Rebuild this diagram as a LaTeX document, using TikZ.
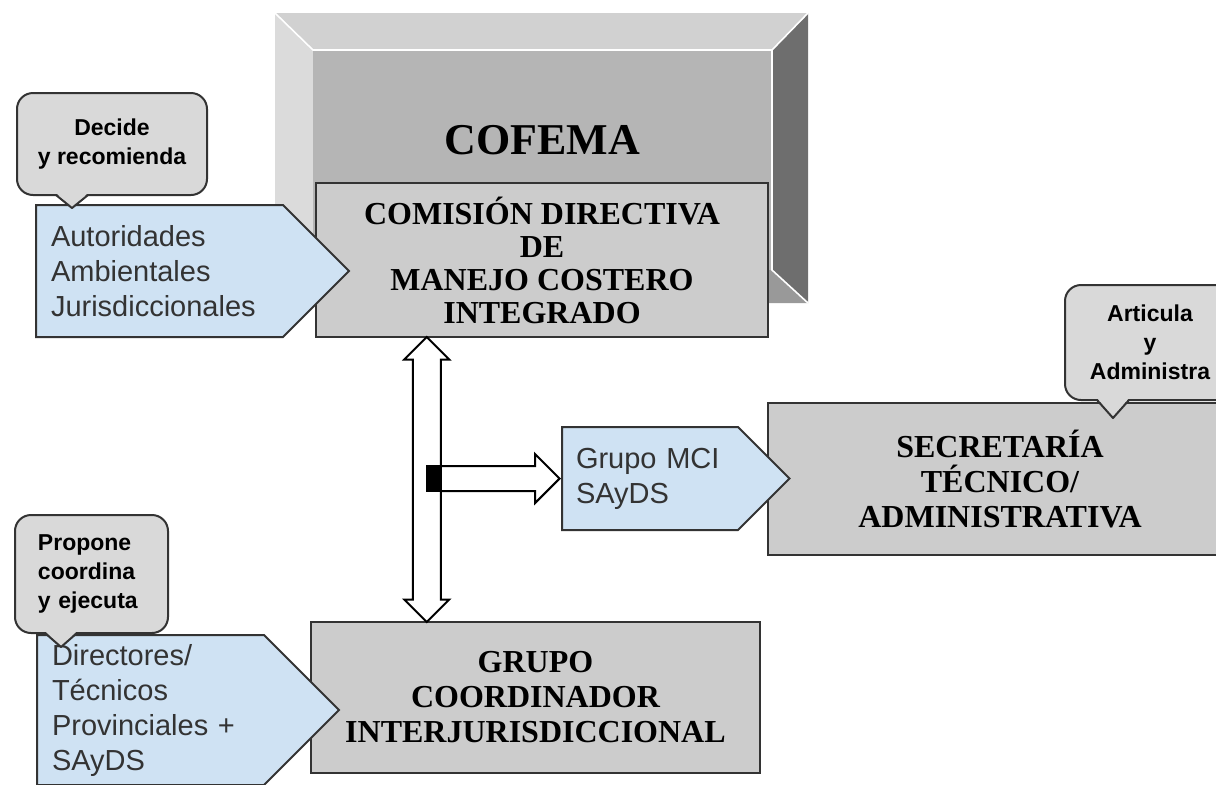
\documentclass[tikz,border=0pt]{standalone}
\usepackage{fontspec}
\setmainfont{Liberation Serif}
\setsansfont{Liberation Sans}
\usetikzlibrary{shapes.symbols,shapes.arrows,calc}

\definecolor{edge}{HTML}{333333}
\definecolor{boxgray}{HTML}{CCCCCC}
\definecolor{facegray}{HTML}{B5B5B5}
\definecolor{tagblue}{HTML}{CFE2F3}
\definecolor{notegray}{HTML}{D9D9D9}
\definecolor{tagtext}{HTML}{333333}

% tail of a callout: #1 note name, #2 tip coordinate
\newcommand{\notetail}[2]{%
  \fill[notegray] ($(#1.south -| #2)+(-8pt,1.5pt)$) -- (#2) -- ($(#1.south -| #2)+(8pt,1.5pt)$) -- cycle;
  \draw[edge, line width=1pt, line join=round] ($(#1.south -| #2)+(-8pt,0.5pt)$) -- (#2) -- ($(#1.south -| #2)+(8pt,0.5pt)$);
}

\begin{document}
\begin{tikzpicture}[x=0.5pt, y=-0.5pt,
    boxnode/.style = {draw=edge, fill=boxgray, line width=1.2pt, inner sep=0pt, align=center, font=\bfseries\fontsize{16}{17.5}\selectfont},
    tag/.style = {signal, signal to=east, signal pointer angle=90, draw=edge, fill=tagblue, line width=1pt, inner xsep=7.5pt, inner ysep=0pt, align=left, text=tagtext, font=\sffamily\fontsize{14.5}{17.5}\selectfont},
    note/.style = {draw=edge, fill=notegray, line width=1pt, rounded corners=8pt, inner sep=0pt, align=center, font=\sffamily\bfseries\fontsize{11.5}{14.5}\selectfont},
    link2/.style = {double arrow, draw=black, fill=white, line width=1pt, inner xsep=0pt, inner ysep=6.5pt, double arrow head extend=4.25pt},
    link1/.style = {single arrow, draw=black, fill=white, line width=1pt, inner xsep=0pt, inner ysep=5.75pt, single arrow head extend=6pt}]
  \useasboundingbox (0,0) rectangle (1216,784);

  % COFEMA frame
  \fill[black!18] (275,13) -- (808,13) -- (772,50) -- (313,50) -- cycle;
  \fill[black!57] (808,13) -- (808,303) -- (772,270) -- (772,50) -- cycle;
  \fill[black!40] (808,303) -- (275,303) -- (313,270) -- (772,270) -- cycle;
  \fill[black!14] (275,303) -- (275,13) -- (313,50) -- (313,270) -- cycle;
  \fill[facegray] (313,50) rectangle (772,270);
  \draw[white, line width=0.8pt] (275,13) -- (313,50) -- (772,50) -- (808,13) (772,50) -- (772,270) -- (808,303);
  \node[font=\bfseries\fontsize{22}{24}\selectfont] (cofema) at (542,140) {COFEMA};

  \node[boxnode, minimum width=226pt, minimum height=77pt, font=\bfseries\fontsize{16}{16.5}\selectfont] (comision) at (542,260)
    {COMISIÓN DIRECTIVA\\DE\\MANEJO COSTERO\\INTEGRADO};
  \node[tag, text width=108.5pt, minimum height=66pt, anchor=west] (autoridades) at (35,271)
    {Autoridades\\Ambientales\\Jurisdiccionales};
  \node[note, minimum width=95pt, minimum height=51pt] (decide) at (112,144) {Decide\\y recomienda};
  \coordinate (dtip) at (72,208);
  \notetail{decide}{dtip}

  \node[boxnode, minimum width=224.5pt, minimum height=75.5pt] (grupo) at (535.5,697.5)
    {GRUPO\\COORDINADOR\\INTERJURISDICCIONAL};
  \node[tag, text width=98.5pt, minimum height=75pt, anchor=west] (directores) at (36,710)
    {Directores/\\Técnicos\\Provinciales +\\SAyDS};
  \node[note, minimum width=76.5pt, minimum height=59pt, text width=53.5pt, align=left] (propone) at (91.5,574)
    {Propone\\coordina\\y ejecuta};
  \coordinate (ptip) at (61,647);
  \notetail{propone}{ptip}

  \node[boxnode, minimum width=232pt, minimum height=76pt] (secretaria) at (1000,479)
    {SECRETARÍA\\TÉCNICO/\\ADMINISTRATIVA};
  \node[tag, text width=74pt, inner xsep=7pt, minimum height=51.5pt, anchor=west] (mci) at (561,478.5)
    {Grupo MCI\\SAyDS};
  \node[note, minimum width=85pt, minimum height=57.5pt] (articula) at (1150,342.5) {Articula\\y\\Administra};
  \coordinate (atip) at (1113,418);
  \notetail{articula}{atip}

  % links
  \node[link1, minimum height=66.5pt, anchor=tip] (feed) at (mci.west) {};
  \path (comision.south west) ++(112,0) coordinate (ltop);
  \path (ltop |- grupo.north) coordinate (lbot);
  \node[link2, minimum height=142.5pt, rotate=90] (link) at ($(ltop)!.5!(lbot)$) {};
  \fill (feed.before tail) rectangle ($(feed.after tail)+(7pt,0)$);
\end{tikzpicture}
\end{document}
